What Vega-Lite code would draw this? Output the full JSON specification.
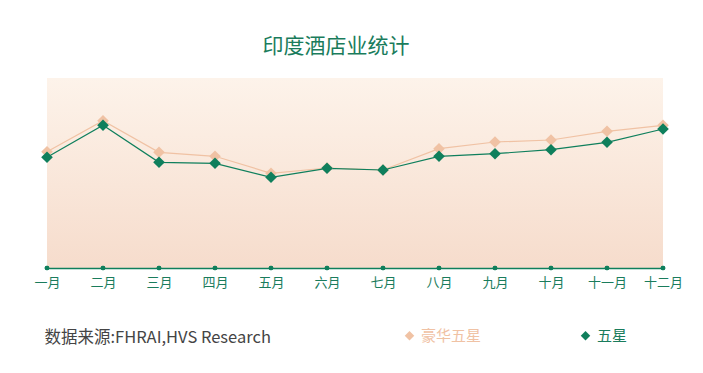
{
  "$schema": "https://vega.github.io/schema/vega-lite/v6.json",
  "width": 616,
  "height": 190,
  "autosize": {"type": "none"},
  "padding": {"left": 47, "top": 78, "right": 40, "bottom": 105},
  "background": "#ffffff",
  "title": {
    "text": "印度酒店业统计",
    "font": "Noto Sans CJK SC",
    "fontSize": 21,
    "fontWeight": "normal",
    "color": "#1a7c5c",
    "anchor": "middle",
    "dx": -19,
    "offset": 21
  },
  "config": {
    "font": "Noto Sans CJK SC",
    "view": {
      "stroke": null,
      "fill": {"gradient": "linear", "x1": 0, "y1": 0, "x2": 0, "y2": 1,
        "stops": [{"offset": 0, "color": "#fdf3ea"}, {"offset": 1, "color": "#f6dccc"}]}
    }
  },
  "data": {
    "values": [
      {"month": "一月", "series": "豪华五星", "value": 116.3},
      {"month": "二月", "series": "豪华五星", "value": 147.3},
      {"month": "三月", "series": "豪华五星", "value": 115.7},
      {"month": "四月", "series": "豪华五星", "value": 111.7},
      {"month": "五月", "series": "豪华五星", "value": 94.7},
      {"month": "六月", "series": "豪华五星", "value": 100},
      {"month": "七月", "series": "豪华五星", "value": 98},
      {"month": "八月", "series": "豪华五星", "value": 119.3},
      {"month": "九月", "series": "豪华五星", "value": 126},
      {"month": "十月", "series": "豪华五星", "value": 128},
      {"month": "十一月", "series": "豪华五星", "value": 136.7},
      {"month": "十二月", "series": "豪华五星", "value": 142.7},
      {"month": "一月", "series": "五星", "value": 110.7},
      {"month": "二月", "series": "五星", "value": 142.7},
      {"month": "三月", "series": "五星", "value": 105.7},
      {"month": "四月", "series": "五星", "value": 104.7},
      {"month": "五月", "series": "五星", "value": 90.7},
      {"month": "六月", "series": "五星", "value": 99.7},
      {"month": "七月", "series": "五星", "value": 98},
      {"month": "八月", "series": "五星", "value": 111.7},
      {"month": "九月", "series": "五星", "value": 114.3},
      {"month": "十月", "series": "五星", "value": 118.3},
      {"month": "十一月", "series": "五星", "value": 125.7},
      {"month": "十二月", "series": "五星", "value": 139}
    ]
  },
  "encoding": {
    "x": {
      "field": "month", "type": "nominal",
      "sort": ["一月","二月","三月","四月","五月","六月","七月","八月","九月","十月","十一月","十二月"],
      "scale": {"type": "point", "padding": 0},
      "axis": {
        "title": "数据来源:FHRAI,HVS Research",
        "titleFont": "Noto Sans CJK SC",
        "titleFontSize": 16.5,
        "titleFontWeight": "normal",
        "titleColor": "#444444",
        "titleAnchor": null,
        "titleAlign": "left",
        "titleBaseline": "middle",
        "titleX": -3,
        "titleY": 69,
        "domainColor": "#0f7f5c",
        "domainWidth": 1.5,
        "ticks": false,
        "labelAngle": 0,
        "labelColor": "#1a7c5c",
        "labelFontSize": 13,
        "labelPadding": 8,
        "grid": false
      }
    }
  },
  "layer": [
    {
      "mark": {"type": "line", "strokeWidth": 1.2},
      "encoding": {
        "y": {"field": "value", "type": "quantitative", "scale": {"domain": [0, 190], "nice": false}, "axis": null},
        "color": {
          "field": "series", "type": "nominal",
          "scale": {"domain": ["豪华五星", "五星"], "range": ["#f0c2a4", "#0f7f5c"]}
        }
      }
    },
    {
      "mark": {"type": "point", "shape": "diamond", "filled": true, "opacity": 1, "size": 135},
      "encoding": {
        "y": {"field": "value", "type": "quantitative"},
        "color": {
          "field": "series", "type": "nominal",
          "legend": {
            "title": null,
            "orient": "none",
            "direction": "horizontal",
            "legendX": 355,
            "legendY": 250,
            "symbolType": "diamond",
            "symbolSize": 90,
            "symbolStrokeWidth": 0,
            "labelFontSize": 15,
            "labelOffset": 4,
            "columnPadding": 96,
            "labelColor": {"expr": "datum.label == '五星' ? '#1a7c5c' : '#f0c2a4'"},
            "encode": {
              "symbols": {"update": {"fill": {"signal": "datum.label == '五星' ? '#0f7f5c' : '#f0c2a4'"}, "strokeWidth": {"value": 0}}}
            }
          }
        }
      }
    },
    {
      "mark": {"type": "point", "shape": "circle", "filled": true, "opacity": 1, "size": 22, "color": "#0f7f5c"},
      "encoding": {
        "y": {"datum": 0}
      }
    }
  ]
}
